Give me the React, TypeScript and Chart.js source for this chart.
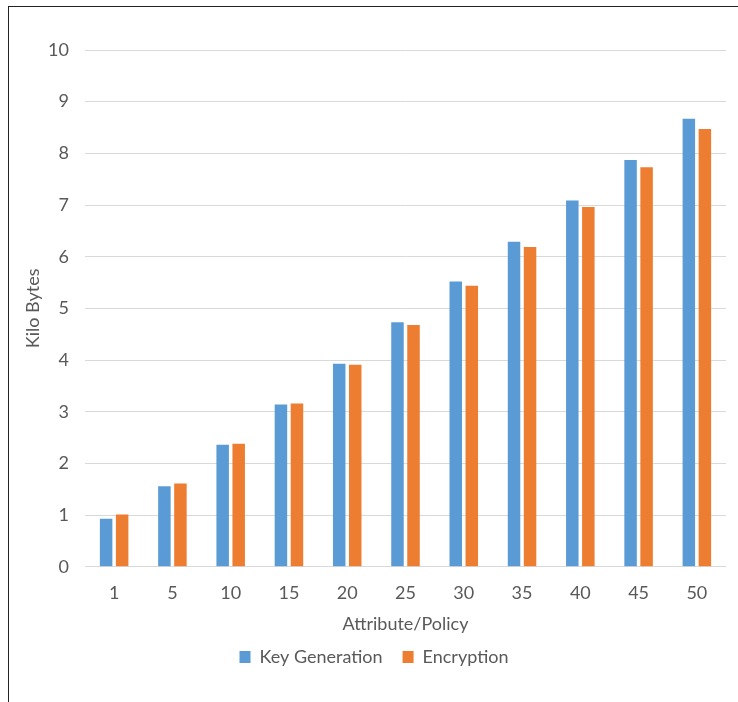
import React, { useEffect, useRef } from "react";
import { Chart, registerables } from "chart.js";

Chart.register(...registerables);

// Attribute/policy counts on the x axis
const categories = ["1", "5", "10", "15", "20", "25", "30", "35", "40", "45", "50"];
// Size in kilobytes for each operation
const keyGeneration = [0.93, 1.56, 2.36, 3.14, 3.93, 4.73, 5.52, 6.29, 7.09, 7.87, 8.67];
const encryption = [1.01, 1.61, 2.38, 3.16, 3.91, 4.68, 5.44, 6.19, 6.96, 7.73, 8.47];

const FONT = "Lato, 'Open Sans', sans-serif";
const TEXT = "#595959";
const SIZE = 18;

export default function App() {
  const ref = useRef<HTMLCanvasElement | null>(null);

  useEffect(() => {
    if (!ref.current) return;
    const chart = new Chart(ref.current, {
      type: "bar",
      data: {
        labels: categories,
        datasets: [
          {
            label: "Key Generation",
            data: keyGeneration,
            backgroundColor: "#5B9BD5",
            categoryPercentage: 0.55,
            barPercentage: 0.78,
          },
          {
            label: "Encryption",
            data: encryption,
            backgroundColor: "#ED7D31",
            categoryPercentage: 0.55,
            barPercentage: 0.78,
          },
        ],
      },
      options: {
        animation: false,
        responsive: false,
        maintainAspectRatio: false,
        layout: { padding: { left: 22, right: 12, top: 50, bottom: 26 } },
        scales: {
          x: {
            grid: { display: false },
            border: { display: false },
            ticks: { color: TEXT, font: { family: FONT, size: SIZE }, padding: 8 },
            title: {
              display: true,
              text: "Attribute/Policy",
              color: TEXT,
              font: { family: FONT, size: SIZE },
              padding: { top: 1, bottom: -7 },
            },
          },
          y: {
            min: 0,
            max: 10,
            afterFit: (scale: any) => {
              scale.width = 63;
            },
            ticks: { stepSize: 1, color: TEXT, font: { family: FONT, size: SIZE }, padding: 16 },
            grid: { color: "#D9D9D9", lineWidth: 1, drawTicks: false },
            border: { display: false },
            title: {
              display: true,
              text: "Kilo Bytes",
              color: TEXT,
              font: { family: FONT, size: SIZE },
              padding: { top: 0, bottom: 6 },
            },
          },
        },
        plugins: {
          legend: {
            position: "bottom",
            labels: {
              color: TEXT,
              font: { family: FONT, size: SIZE },
              boxWidth: 11,
              boxHeight: 12,
              padding: 20,
            },
          },
          tooltip: { enabled: false },
        },
      },
    });
    return () => chart.destroy();
  }, []);

  return (
    <div style={{ position: "fixed", left: 0, top: 0, width: 738, height: 702, background: "#fff" }}>
      <div
        style={{
          position: "absolute",
          left: 8,
          top: 6,
          right: -2,
          bottom: -2,
          borderLeft: "1.5px solid #222",
          borderTop: "1.5px solid #222",
        }}
      />
      <canvas ref={ref} width={738} height={702} style={{ position: "absolute", left: 0, top: 0 }} />
    </div>
  );
}
